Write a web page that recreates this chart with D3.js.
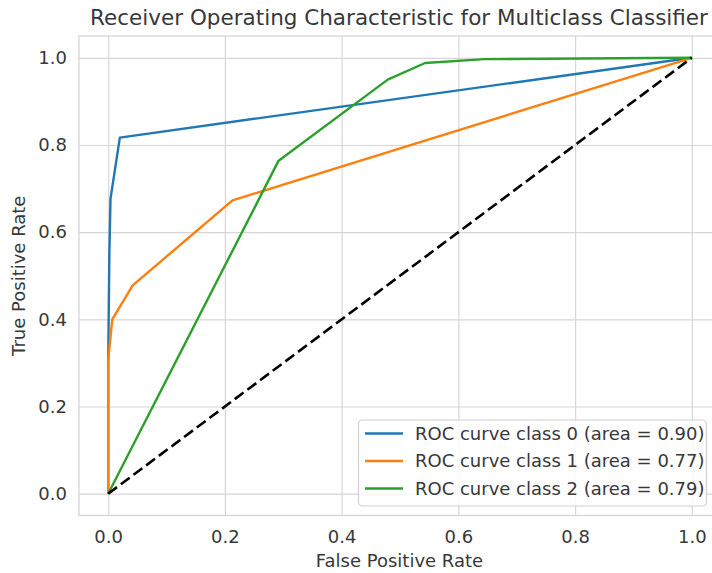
<!DOCTYPE html>
<html>
<head>
    <meta charset="utf-8">
    <script src="https://d3js.org/d3.v7.min.js" charset="utf-8"></script>
    <style>
        body { margin: 0; background: #fff; }
        svg { display: block; font-family: "DejaVu Sans", sans-serif; }
    </style>
</head>
<body>
    <svg id="chart" width="712" height="573"></svg>
<script>
    // roc points (fpr / tpr per class)
    var classNames = ["ROC curve class 0 (area = 0.90)", "ROC curve class 1 (area = 0.77)", "ROC curve class 2 (area = 0.79)"];
    var colors = ["#1f77b4", "#ff7f0e", "#2ca02c"];

    var fpr0 = [0, 0, 0.002, 0.004, 0.020, 1];
    var tpr0 = [0, 0.30, 0.55, 0.677, 0.817, 1];

    var fpr1 = [0, 0, 0.007, 0.042, 0.213, 1];
    var tpr1 = [0, 0.306, 0.400, 0.478, 0.673, 1];

    var fpr2 = [0, 0.292, 0.479, 0.543, 0.645, 1];
    var tpr2 = [0, 0.764, 0.950, 0.988, 0.997, 1];

    var chance = [0, 1]; // the dashed diagonal
    var ticks = [0, 0.2, 0.4, 0.6, 0.8, 1.0];

    var fprs = [fpr0, fpr1, fpr2],
        tprs = [tpr0, tpr1, tpr2];

    // careful: "top" is taken by window.top, so prefix everything
    var svg = d3.select('#chart'),
        pLeft = 79, pRight = 721, pTop = 36, pBottom = 515.5,
        textCol = '#383838',
        gridCol = '#d6d6d6';

    var x = d3.scaleLinear().domain([-0.05, 1.05]).range([pLeft, pRight]);
    var y = d3.scaleLinear().domain([-0.05, 1.05]).range([pBottom, pTop]);

    // grid + tick labels, gridlines are just long inner ticks
    var xAxis = svg.append('g')
        .attr('transform', 'translate(0,' + pBottom + ')')
        .call(d3.axisBottom(x).tickValues(ticks).tickFormat(d3.format('.1f'))
            .tickSizeInner(-(pBottom - pTop)).tickSizeOuter(0).tickPadding(15));

    var yAxis = svg.append('g')
        .attr('transform', 'translate(' + pLeft + ',0)')
        .call(d3.axisLeft(y).tickValues(ticks).tickFormat(d3.format('.1f'))
            .tickSizeInner(-(pRight - pLeft)).tickSizeOuter(0).tickPadding(12));

    [xAxis, yAxis].forEach(function(g) {
        g.select('.domain').remove();
        g.selectAll('.tick line').attr('stroke', gridCol).attr('stroke-width', 1.2);
        g.selectAll('.tick text').attr('fill', textCol).attr('font-size', 18)
            .attr('font-family', '"DejaVu Sans", sans-serif');
    });

    // spines (light grey like seaborn whitegrid)
    svg.append('rect')
        .attr('x', pLeft).attr('y', pTop)
        .attr('width', pRight - pLeft).attr('height', pBottom - pTop)
        .attr('fill', 'none').attr('stroke', gridCol).attr('stroke-width', 1.3);

    var line = d3.line()
        .x(function(d) { return x(d[0]); })
        .y(function(d) { return y(d[1]); });

    var plot = svg.append('g');

    fprs.forEach(function(f, i) {
        var pts = f.map(function(v, j) { return [v, tprs[i][j]]; });
        plot.append('path')
            .datum(pts)
            .attr('d', line)
            .attr('fill', 'none')
            .attr('stroke', colors[i])
            .attr('stroke-width', 2.4)
            .attr('stroke-linejoin', 'round');
    });

    plot.append('path')
        .datum(chance.map(function(v) { return [v, v]; }))
        .attr('d', line)
        .attr('fill', 'none')
        .attr('stroke', '#000')
        .attr('stroke-width', 2.6)
        .attr('stroke-dasharray', '11,4.8');

    // title + axis labels
    svg.append('text')
        .attr('x', (pLeft + pRight) / 2 - 1).attr('y', 25)
        .attr('text-anchor', 'middle')
        .attr('font-size', 21.5).attr('fill', textCol)
        .text('Receiver Operating Characteristic for Multiclass Classifier');

    svg.append('text')
        .attr('x', (pLeft + pRight) / 2 - 0.5).attr('y', 566.5)
        .attr('text-anchor', 'middle')
        .attr('font-size', 18).attr('fill', textCol)
        .text('False Positive Rate');

    svg.append('text')
        .attr('transform', 'translate(25,' + ((pTop + pBottom) / 2) + ') rotate(-90)')
        .attr('text-anchor', 'middle')
        .attr('font-size', 18).attr('fill', textCol)
        .text('True Positive Rate');

    // legend, lower right
    var legend = svg.append('g');
    legend.append('rect')
        .attr('x', 358.5).attr('y', 420)
        .attr('width', 348).attr('height', 86)
        .attr('rx', 4)
        .attr('fill', '#fff').attr('fill-opacity', 0.8)
        .attr('stroke', '#d0d0d0').attr('stroke-width', 1.2);

    var rows = legend.selectAll('.row')
        .data(classNames)
        .enter().append('g')
        .attr('transform', function(d, i) { return 'translate(0,' + (433.5 + i * 27.5) + ')'; });

    rows.append('line')
        .attr('x1', 365).attr('x2', 403)
        .attr('stroke', function(d, i) { return colors[i]; })
        .attr('stroke-width', 2.4);

    rows.append('text')
        .attr('x', 415).attr('dy', '0.36em')
        .attr('font-size', 18).attr('fill', textCol)
        .text(function(d) { return d; });
</script>
</body>
</html>
